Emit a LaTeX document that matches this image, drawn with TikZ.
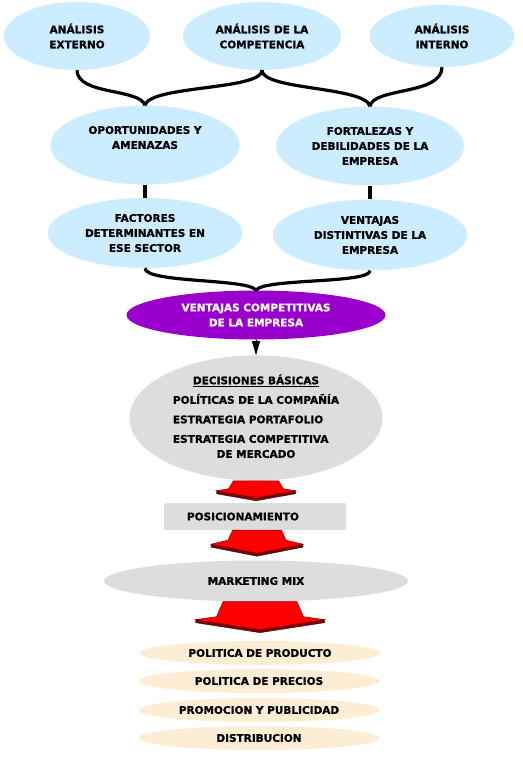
\documentclass[tikz,border=0pt]{standalone}
\usepackage{fontspec}
\setmainfont{DejaVu Sans}[BoldFeatures={FakeBold=1}]
\usepackage{tikz}
\usetikzlibrary{shapes,arrows,arrows.meta}
\usetikzlibrary{positioning}
\usetikzlibrary{calc}

\definecolor{celeste}{RGB}{204,236,255}
\definecolor{grisclaro}{RGB}{221,221,221}
\definecolor{morado}{RGB}{153,0,204}
\definecolor{cremaclaro}{RGB}{252,237,212}
\definecolor{rojo}{RGB}{255,0,0}
\definecolor{granate}{RGB}{128,0,0}

% flecha roja gruesa: origen, medio ancho arriba, medio ancho cuerpo, alto cuerpo,
% medio ancho punta, caida del hombro, alto total, grosor
\newcommand{\flecharoja}[8]{%
	\begin{scope}[shift={(#1)}]
		\filldraw[fill=granate,draw=black,line width=0.3pt] (-#5,#4+#6) -- (-#5,#4+#6+#8) -- (0,#7+#8) -- (#5,#4+#6+#8) -- (#5,#4+#6) -- (0,#7) -- cycle;
		\filldraw[fill=rojo,draw=granate,line width=0.5pt] (-#2,0) -- (#2,0) -- (#3,#4) -- (#5,#4+#6) -- (0,#7) -- (-#5,#4+#6) -- (-#3,#4) -- cycle;
	\end{scope}}

\begin{document}
\begin{tikzpicture}[x=1pt,y=-1pt,>={Triangle[length=14pt,width=8pt]},
		texto/.style={font=\bfseries\fontsize{10.5}{15}\selectfont, align=center, inner sep=0pt},
		nube/.style={texto, ellipse, fill=celeste},
		gris/.style={texto, ellipse, fill=grisclaro},
		crema/.style={texto, ellipse, fill=cremaclaro, minimum width=241pt, minimum height=24pt},
		llave/.style={line width=3.2pt},
	]

	\useasboundingbox (0,0) rectangle (522,762);

	% Analisis
	% --------
	\node[nube, minimum width=146pt, minimum height=68pt] (ext) at (77,36) {ANÁLISIS\\EXTERNO};
	\node[nube, minimum width=158pt, minimum height=68pt] (comp) at (262,36) {ANÁLISIS DE LA\\COMPETENCIA};
	\node[nube, minimum width=145pt, minimum height=62pt] (int) at (442,36) {ANÁLISIS\\INTERNO};

	\node[nube, minimum width=189pt, minimum height=79pt] (oport) at (145,145) {OPORTUNIDADES Y\\AMENAZAS\\ \mbox{}};
	\node[nube, minimum width=188pt, minimum height=79pt] (fort) at (370,146) {FORTALEZAS Y\\DEBILIDADES DE LA\\EMPRESA};

	\node[nube, minimum width=195pt, minimum height=70pt] (fact) at (145,233) {FACTORES\\DETERMINANTES EN\\ESE SECTOR};
	\node[nube, minimum width=194pt, minimum height=71pt] (vent) at (370,235) {VENTAJAS\\DISTINTIVAS DE LA\\EMPRESA};

	% llaves
	\draw[llave] (ext.south) .. controls +(0,25) and +(-5,-17) .. (oport.north);
	\draw[llave] (comp.south) .. controls +(0,20) and +(5,-20) .. (oport.north);
	\draw[llave] (comp.south) .. controls +(0,20) and +(-5,-20) .. (fort.north);
	\draw[llave] (int.south) .. controls +(0,28) and +(3,-19) .. (fort.north);

	\draw[llave] (oport.south) -- (fact.north);
	\draw[llave] (fort.south) -- (vent.north);

	% Ventajas competitivas
	% ---------------------
	\node[texto, ellipse, fill=morado, text=white, minimum width=259pt, minimum height=49pt] (compet) at (256,315) {VENTAJAS COMPETITIVAS\\DE LA EMPRESA};

	\draw[llave] (fact.south) .. controls +(0,15) and +(-7,-12) .. (compet.north);
	\draw[llave] (vent.south) .. controls +(0,13) and +(7,-12) .. (compet.north);

	\node[gris, minimum width=253pt, minimum height=111pt] (decis) at (256,418) {%
		\begin{tabular}{@{}l@{}}
			\multicolumn{1}{@{}c@{}}{\underline{DECISIONES BÁSICAS}}\\[4.5pt]
			POLÍTICAS DE LA COMPAÑÍA\\[4.5pt]
			ESTRATEGIA PORTAFOLIO\\[4.5pt]
			ESTRATEGIA COMPETITIVA\\
			\multicolumn{1}{@{}c@{}}{DE MERCADO}
		\end{tabular}};

	\draw[line width=0.8pt,->] (compet.south) -- (decis.north);

	% Posicionamiento y marketing mix
	% -------------------------------
	\node[texto, rectangle, rounded corners=2pt, fill=grisclaro, align=left, inner xsep=23pt,
		  text width=136pt, minimum height=27pt] (posic) at (255,516.5) {POSICIONAMIENTO};
	\node[gris, minimum width=304pt, minimum height=41pt] (mix) at (256,581) {MARKETING MIX};

	\flecharoja{decis.south}{22.5}{27.5}{8}{39.5}{2}{17}{3}
	\flecharoja{$(posic.south)+(2,0)$}{24.5}{29}{10}{46}{4}{23}{3}
	\flecharoja{$(mix.south)+(4,0)$}{37}{43.5}{15}{64.5}{3}{28}{3}

	% Politicas
	% ---------
	\node[crema] (prod) at (260,653) {POLITICA DE PRODUCTO};
	\node[crema] (prec) at (259,681) {POLITICA DE PRECIOS};
	\node[crema] (prom) at (259,710) {PROMOCION Y PUBLICIDAD};
	\node[crema] (dist) at (259,738) {DISTRIBUCION};

\end{tikzpicture}
\end{document}
